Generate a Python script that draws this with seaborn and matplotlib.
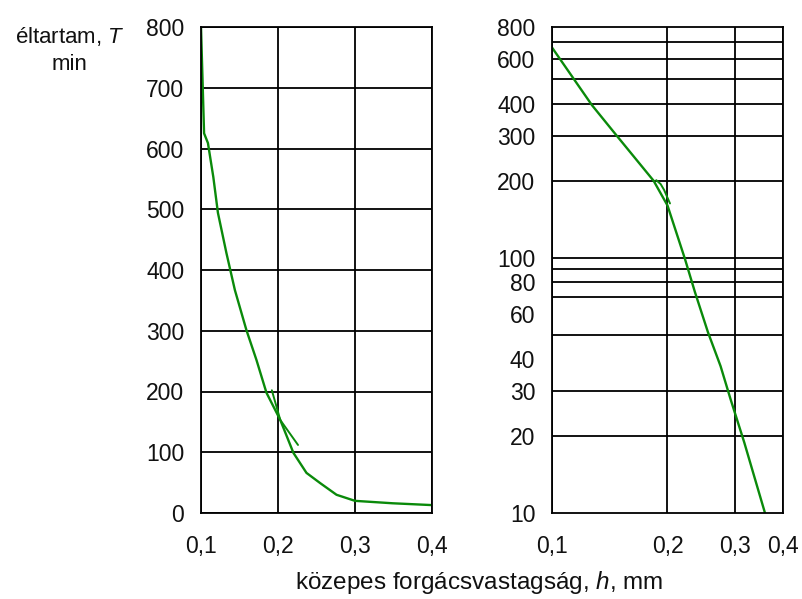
import matplotlib
matplotlib.use("Agg")
import matplotlib.pyplot as plt
import matplotlib.ticker as mticker
import seaborn as sns
import pandas as pd

# ---- data ----
left_h = [0.100, 0.104, 0.109, 0.116, 0.122, 0.133, 0.144, 0.159, 0.172, 0.185,
          0.203, 0.220, 0.237, 0.255, 0.276, 0.300, 0.349, 0.400]
left_T = [800, 625, 609, 553, 494, 428, 367, 301, 252, 198,
          153, 99, 66, 49, 30, 20, 16, 13]
left_extra_h = [0.192, 0.203, 0.226]
left_extra_T = [202, 153, 112]

right_h = [0.100, 0.127, 0.147, 0.184, 0.200, 0.222, 0.236, 0.255, 0.275, 0.292, 0.317, 0.359]
right_T = [665, 396, 302, 200, 160, 99, 73, 51, 37.6, 27.9, 18.9, 10]
right_extra_h = [0.187, 0.192, 0.196, 0.203]
right_extra_T = [201, 194, 184, 163]

x_ticks = [0.1, 0.2, 0.3, 0.4]
left_y_ticks = [0, 100, 200, 300, 400, 500, 600, 700, 800]
right_y_labels = [10, 20, 30, 40, 60, 80, 100, 200, 300, 400, 600, 800]
right_y_grid = [20, 30, 50, 70, 80, 90, 100, 200, 300, 400, 500, 600, 700]

ylabel_line1 = "éltartam, $T$"
ylabel_line2 = "min"
xlabel_text = "közepes forgácsvastagság, $h$, mm"

# ---- style ----
sns.set_style("white")
plt.rcParams['font.family'] = ['Liberation Sans', 'DejaVu Sans']
plt.rcParams['mathtext.fontset'] = 'custom'
plt.rcParams['mathtext.rm'] = 'Liberation Sans'
plt.rcParams['mathtext.it'] = 'Liberation Sans:italic'

GREEN = "#0a8a0a"
LW_GRID = 1.3
TICK_FS = 16.5

fig = plt.figure(figsize=(8.03, 5.99), dpi=100)
W, H = 803, 599
def rect(l, r, t, b):
    return [l / W, 1 - b / H, (r - l) / W, (b - t) / H]

ax1 = fig.add_axes(rect(201, 432, 27, 513))
ax2 = fig.add_axes(rect(552, 783, 27, 513))

comma = mticker.FuncFormatter(lambda v, p: f"{v:g}".replace(".", ","))

# left panel (linear)
df_l = pd.DataFrame({"h": left_h, "T": left_T})
df_le = pd.DataFrame({"h": left_extra_h, "T": left_extra_T})
sns.lineplot(data=df_l, x="h", y="T", ax=ax1, color=GREEN, lw=1.7, sort=False, estimator=None)
sns.lineplot(data=df_le, x="h", y="T", ax=ax1, color=GREEN, lw=1.4, sort=False, estimator=None)
ax1.set_xlim(0.1, 0.4)
ax1.set_ylim(0, 800)
ax1.set_xticks(x_ticks)
ax1.set_yticks(left_y_ticks)
ax1.xaxis.set_major_formatter(comma)
ax1.grid(True, color="black", lw=LW_GRID)

# right panel (log-log)
df_r = pd.DataFrame({"h": right_h, "T": right_T})
df_re = pd.DataFrame({"h": right_extra_h, "T": right_extra_T})
sns.lineplot(data=df_r, x="h", y="T", ax=ax2, color=GREEN, lw=1.7, sort=False, estimator=None)
sns.lineplot(data=df_re, x="h", y="T", ax=ax2, color=GREEN, lw=1.4, sort=False, estimator=None)
ax2.set_xscale("log")
ax2.set_yscale("log")
ax2.set_xlim(0.1, 0.4)
ax2.set_ylim(10, 800)
ax2.xaxis.set_major_locator(mticker.FixedLocator(x_ticks))
ax2.xaxis.set_minor_locator(mticker.NullLocator())
ax2.xaxis.set_major_formatter(comma)
ax2.yaxis.set_major_locator(mticker.FixedLocator(right_y_labels))
ax2.yaxis.set_major_formatter(mticker.FuncFormatter(lambda v, p: f"{v:g}"))
ax2.yaxis.set_minor_locator(mticker.FixedLocator(right_y_grid))
ax2.yaxis.set_minor_formatter(mticker.NullFormatter())
ax2.yaxis.remove_overlapping_locs = False
ax2.grid(False)
ax2.grid(True, axis="x", which="major", color="black", lw=LW_GRID)
ax2.grid(True, axis="y", which="minor", color="black", lw=LW_GRID)

for ax in (ax1, ax2):
    ax.set_xlabel("")
    ax.set_ylabel("")
    for s in ax.spines.values():
        s.set_color("black")
        s.set_linewidth(LW_GRID)
        s.set_visible(True)
    ax.tick_params(axis="both", which="both", length=0, labelsize=TICK_FS, colors="#111111")
    ax.tick_params(axis="y", pad=12)
    ax.tick_params(axis="x", pad=16)

fig.text(70 / W, 1 - 36 / H, ylabel_line1, ha="center", va="center", fontsize=16, color="#111111")
fig.text(70 / W, 1 - 64 / H, ylabel_line2, ha="center", va="center", fontsize=16, color="#111111")
fig.text(479 / W, 1 - 583 / H, xlabel_text, ha="center", va="center", fontsize=17.5, color="#111111")

fig.savefig("out.png", dpi=100)
